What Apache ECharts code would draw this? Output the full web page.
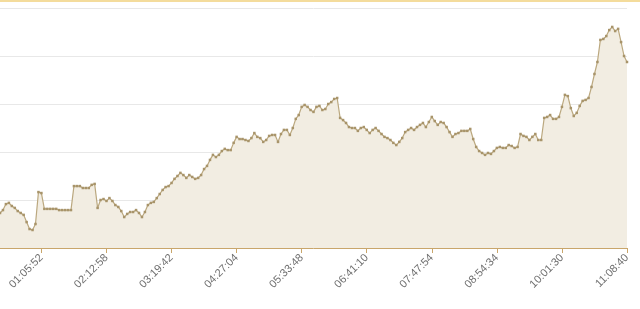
<!DOCTYPE html>
<html>
<head>
<meta charset="utf-8">
<script src="https://cdn.jsdelivr.net/npm/echarts@6/dist/echarts.min.js"></script>
<style>html,body{margin:0;padding:0;background:#fff}#c{width:640px;height:309px}</style>
</head>
<body>
<div id="c"></div>
<script>
// Tick labels shown on the x axis (every 22nd sample starting at sample 14)
const tickLabels = ['01:05:52','02:12:58','03:19:42','04:27:04','05:33:48','06:41:10','07:47:54','08:54:34','10:01:30','11:08:40'];
const firstTick = 14;
const tickStep = 22;

// Series values (one per sample)
const values = [
  14.6, 15.8, 18.3, 18.8, 17.5, 16.7, 15.4, 14.6, 13.8, 10.8,
  7.9, 7.5, 10.0, 23.3, 22.9, 16.3, 16.3, 16.3, 16.3, 16.3,
  15.8, 15.8, 15.8, 15.8, 15.8, 25.8, 25.8, 25.8, 25.0, 25.0,
  25.0, 26.3, 26.7, 16.7, 20.0, 20.4, 19.6, 20.8, 19.6, 17.9,
  17.1, 15.4, 12.9, 14.2, 15.0, 15.0, 15.8, 14.6, 12.9, 15.0,
  17.9, 18.8, 19.2, 20.8, 22.5, 24.2, 25.4, 25.8, 27.1, 28.8,
  30.0, 31.3, 30.4, 29.2, 30.4, 29.6, 28.8, 29.2, 30.4, 32.9,
  34.2, 36.7, 38.8, 37.9, 38.8, 40.4, 41.3, 40.8, 40.8, 43.8,
  46.3, 45.4, 45.4, 45.0, 44.6, 45.8, 47.9, 46.3, 45.8, 44.2,
  45.0, 46.7, 47.1, 47.1, 44.2, 47.5, 49.2, 49.2, 47.1, 50.0,
  53.8, 55.4, 58.8, 59.6, 58.8, 57.5, 56.7, 58.8, 59.2, 57.5,
  57.9, 60.0, 60.8, 62.1, 62.5, 54.2, 53.3, 52.1, 50.4, 50.0,
  50.0, 48.8, 50.0, 50.4, 49.2, 47.9, 49.2, 50.0, 48.8, 47.5,
  46.3, 45.8, 45.0, 43.8, 42.9, 44.2, 45.8, 48.3, 49.2, 50.0,
  49.2, 50.4, 51.3, 52.1, 50.4, 52.5, 54.6, 52.9, 51.3, 52.5,
  52.1, 50.4, 48.3, 46.3, 47.5, 47.9, 48.8, 48.8, 48.8, 49.6,
  45.4, 42.1, 40.4, 39.6, 38.8, 39.6, 39.2, 40.4, 41.7, 42.1,
  41.7, 41.7, 42.9, 42.5, 41.7, 42.1, 47.5, 46.7, 46.3, 45.0,
  46.3, 47.5, 45.0, 45.0, 54.2, 54.6, 55.4, 53.8, 53.8, 54.6,
  58.8, 63.8, 63.3, 58.3, 55.0, 56.3, 59.2, 61.3, 61.7, 62.5,
  67.1, 72.5, 77.5, 86.7, 87.1, 88.3, 90.8, 92.1, 90.4, 91.3,
  85.8, 80.0, 77.5
];

const isTick = (i) => i >= firstTick && (i - firstTick) % tickStep === 0;
const categories = values.map((_, i) => isTick(i) ? tickLabels[(i - firstTick) / tickStep] : 's' + i);

const chart = echarts.init(document.getElementById('c'), null, {renderer: 'canvas'});
chart.setOption({
  animation: false,
  graphic: [{
    type: 'rect', left: 0, top: 0, z: 10,
    shape: {width: 640, height: 2},
    style: {fill: '#f4dc9c'}
  }],
  grid: {left: 0, right: 13, top: 8, bottom: 61, containLabel: false},
  xAxis: {
    type: 'category',
    data: categories,
    boundaryGap: false,
    axisLine: {lineStyle: {color: '#c9a66b', width: 1}},
    axisTick: {show: true, interval: (i) => isTick(i), length: 5, lineStyle: {color: '#c9a66b'}},
    axisLabel: {interval: (i) => isTick(i), rotate: 45, fontSize: 11, color: '#6e6e6e', fontFamily: 'Liberation Sans, Arial, sans-serif', margin: 8},
    splitLine: {show: false}
  },
  yAxis: {
    type: 'value', min: 0, max: 100, interval: 20,
    axisLine: {show: false}, axisTick: {show: false}, axisLabel: {show: false},
    splitLine: {lineStyle: {color: '#e8e8e8'}}
  },
  series: [{
    type: 'line',
    data: values,
    showSymbol: true,
    showAllSymbol: true,
    symbol: 'rect',
    symbolSize: 2.5,
    itemStyle: {color: '#a8946a'},
    lineStyle: {color: '#bba87f', width: 1.2},
    areaStyle: {color: '#f2ede2', opacity: 1}
  }]
});
</script>
</body>
</html>
